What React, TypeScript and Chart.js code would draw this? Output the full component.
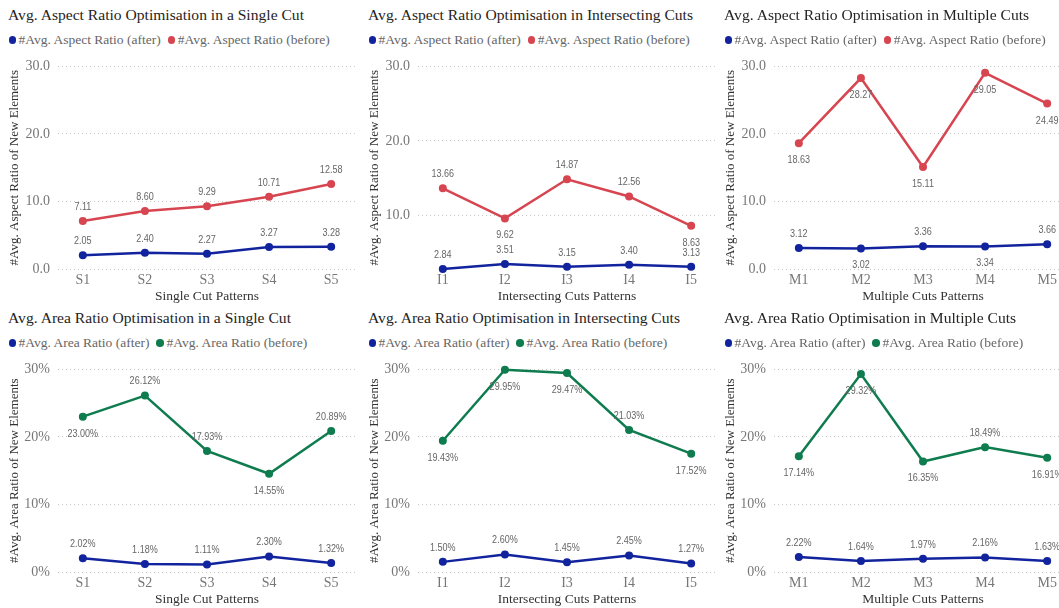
import React, { useEffect, useRef } from "react";
import { Chart, registerables } from "chart.js";

Chart.register(...registerables);

// Category labels
const singleCats = ["S1", "S2", "S3", "S4", "S5"];
const intersectCats = ["I1", "I2", "I3", "I4", "I5"];
const multipleCats = ["M1", "M2", "M3", "M4", "M5"];

// Average aspect ratio of new elements
const aspectSingleAfter = [2.05, 2.4, 2.27, 3.27, 3.28];
const aspectSingleBefore = [7.11, 8.6, 9.29, 10.71, 12.58];
const aspectIntersectAfter = [2.84, 3.51, 3.15, 3.4, 3.13];
const aspectIntersectBefore = [13.66, 9.62, 14.87, 12.56, 8.63];
const aspectMultipleAfter = [3.12, 3.02, 3.36, 3.34, 3.66];
const aspectMultipleBefore = [18.63, 28.27, 15.11, 29.05, 24.49];

// Average area ratio of new elements (percent)
const areaSingleAfter = [2.02, 1.18, 1.11, 2.3, 1.32];
const areaSingleBefore = [23.0, 26.12, 17.93, 14.55, 20.89];
const areaIntersectAfter = [1.5, 2.6, 1.45, 2.45, 1.27];
const areaIntersectBefore = [19.43, 29.95, 29.47, 21.03, 17.52];
const areaMultipleAfter = [2.22, 1.64, 1.97, 2.16, 1.63];
const areaMultipleBefore = [17.14, 29.32, 16.35, 18.49, 16.91];

// Value-axis ticks
const yTicks = [0, 10, 20, 30];
const yMax = 30;

const BLUE = "#12239E";
const RED = "#D64550";
const GREEN = "#0E7C4E";

const SERIF = "'Liberation Serif', 'Times New Roman', serif";
const LABEL_FONT = "10.5px 'Liberation Sans', Arial, sans-serif";
const LABEL_SQUEEZE = 0.86;

type Side = "a" | "b";
const allAbove: Side[] = ["a", "a", "a", "a", "a"];

interface PanelSpec {
  left: number;
  top: number;
  title: string;
  legendAfter: string;
  legendBefore: string;
  cats: string[];
  after: number[];
  before: number[];
  beforeColor: string;
  xTitle: string;
  yTitle: string;
  percent: boolean;
  fromZero: boolean;
  afterSides: Side[];
  beforeSides: Side[];
}

const aspectLegend = ["#Avg. Aspect Ratio (after)", "#Avg. Aspect Ratio (before)"];
const areaLegend = ["#Avg. Area Ratio (after)", "#Avg. Area Ratio (before)"];

const panels: PanelSpec[] = [
  {
    left: 0, top: 0,
    title: "Avg. Aspect Ratio Optimisation in a Single Cut",
    legendAfter: aspectLegend[0], legendBefore: aspectLegend[1],
    cats: singleCats, after: aspectSingleAfter, before: aspectSingleBefore,
    beforeColor: RED, xTitle: "Single Cut Patterns",
    yTitle: "#Avg. Aspect Ratio of New Elements",
    percent: false, fromZero: true,
    afterSides: allAbove, beforeSides: allAbove,
  },
  {
    left: 360, top: 0,
    title: "Avg. Aspect Ratio Optimisation in Intersecting Cuts",
    legendAfter: aspectLegend[0], legendBefore: aspectLegend[1],
    cats: intersectCats, after: aspectIntersectAfter, before: aspectIntersectBefore,
    beforeColor: RED, xTitle: "Intersecting Cuts Patterns",
    yTitle: "#Avg. Aspect Ratio of New Elements",
    percent: false, fromZero: false,
    afterSides: allAbove, beforeSides: ["a", "b", "a", "a", "b"],
  },
  {
    left: 716, top: 0,
    title: "Avg. Aspect Ratio Optimisation in Multiple Cuts",
    legendAfter: aspectLegend[0], legendBefore: aspectLegend[1],
    cats: multipleCats, after: aspectMultipleAfter, before: aspectMultipleBefore,
    beforeColor: RED, xTitle: "Multiple Cuts Patterns",
    yTitle: "#Avg. Aspect Ratio of New Elements",
    percent: false, fromZero: true,
    afterSides: ["a", "b", "a", "b", "a"], beforeSides: ["b", "b", "b", "b", "b"],
  },
  {
    left: 0, top: 303,
    title: "Avg. Area Ratio Optimisation in a Single Cut",
    legendAfter: areaLegend[0], legendBefore: areaLegend[1],
    cats: singleCats, after: areaSingleAfter, before: areaSingleBefore,
    beforeColor: GREEN, xTitle: "Single Cut Patterns",
    yTitle: "#Avg. Area Ratio of New Elements",
    percent: true, fromZero: true,
    afterSides: allAbove, beforeSides: ["b", "a", "a", "b", "a"],
  },
  {
    left: 360, top: 303,
    title: "Avg. Area Ratio Optimisation in Intersecting Cuts",
    legendAfter: areaLegend[0], legendBefore: areaLegend[1],
    cats: intersectCats, after: areaIntersectAfter, before: areaIntersectBefore,
    beforeColor: GREEN, xTitle: "Intersecting Cuts Patterns",
    yTitle: "#Avg. Area Ratio of New Elements",
    percent: true, fromZero: true,
    afterSides: allAbove, beforeSides: ["b", "b", "b", "a", "b"],
  },
  {
    left: 716, top: 303,
    title: "Avg. Area Ratio Optimisation in Multiple Cuts",
    legendAfter: areaLegend[0], legendBefore: areaLegend[1],
    cats: multipleCats, after: areaMultipleAfter, before: areaMultipleBefore,
    beforeColor: GREEN, xTitle: "Multiple Cuts Patterns",
    yTitle: "#Avg. Area Ratio of New Elements",
    percent: true, fromZero: true,
    afterSides: allAbove, beforeSides: ["b", "b", "b", "a", "b"],
  },
];

const CANVAS_W = 360;
const CANVAS_H = 253;

function makeLabelPlugin(spec: PanelSpec) {
  const fmt = (v: number) => (spec.percent ? `${v.toFixed(2)}%` : v.toFixed(2));
  const sides = [spec.afterSides, spec.beforeSides];
  return {
    id: "valueLabels",
    afterDatasetsDraw(chart: any) {
      const ctx = chart.ctx as CanvasRenderingContext2D;
      chart.data.datasets.forEach((ds: any, di: number) => {
        const meta = chart.getDatasetMeta(di);
        meta.data.forEach((pt: any, i: number) => {
          const v = ds.data[i].y as number;
          const dy = sides[di][i] === "b" ? 17 : -14;
          ctx.save();
          ctx.font = LABEL_FONT;
          ctx.fillStyle = "#666666";
          ctx.textAlign = "center";
          ctx.textBaseline = "middle";
          ctx.translate(pt.x, pt.y + dy);
          ctx.scale(LABEL_SQUEEZE, 1);
          ctx.fillText(fmt(v), 0, 0);
          ctx.restore();
        });
      });
    },
  };
}

function Panel({ spec }: { spec: PanelSpec }) {
  const ref = useRef<HTMLCanvasElement | null>(null);

  useEffect(() => {
    if (!ref.current) return;
    const yMin = spec.fromZero ? 0 : Math.min(...spec.after, ...spec.before);
    const toPoints = (vals: number[]) => vals.map((y, i) => ({ x: i, y }));
    const lineStyle = (color: string) => ({
      borderColor: color,
      backgroundColor: color,
      borderWidth: 2.5,
      pointRadius: 4,
      pointHoverRadius: 4,
      pointBorderWidth: 0,
      tension: 0,
      clip: false as const,
    });

    const chart = new Chart(ref.current, {
      type: "line",
      data: {
        datasets: [
          { label: spec.legendAfter, data: toPoints(spec.after), ...lineStyle(BLUE) },
          { label: spec.legendBefore, data: toPoints(spec.before), ...lineStyle(spec.beforeColor) },
        ],
      },
      options: {
        responsive: false,
        animation: false,
        devicePixelRatio: 1,
        layout: { padding: { top: 12, right: 3, left: 0, bottom: 0 } },
        plugins: {
          legend: { display: false },
          title: { display: false },
          tooltip: { enabled: false },
        },
        scales: {
          x: {
            type: "linear",
            min: -0.4,
            max: spec.cats.length - 1 + 0.4,
            afterBuildTicks: (scale: any) => {
              scale.ticks = spec.cats.map((_, i) => ({ value: i }));
            },
            afterFit: (scale: any) => {
              scale.height = 34;
            },
            grid: { display: false, drawTicks: false },
            border: { display: false },
            ticks: {
              padding: 3,
              color: "#777777",
              font: { family: SERIF, size: 14 },
              callback: (v: any) => spec.cats[Number(v)] ?? "",
              maxRotation: 0,
              autoSkip: false,
            },
            title: {
              display: true,
              text: spec.xTitle,
              color: "#333333",
              font: { family: SERIF, size: 13.5, lineHeight: 1 },
              padding: { top: 0, bottom: 0 },
            },
          },
          y: {
            type: "linear",
            min: yMin,
            max: yMax,
            afterBuildTicks: (scale: any) => {
              scale.ticks = yTicks.filter((t) => t >= yMin).map((t) => ({ value: t }));
            },
            afterFit: (scale: any) => {
              scale.width = 58;
            },
            grid: { color: "#c8c8c8", drawTicks: false, lineWidth: 1 },
            border: { display: false, dash: [1, 3] },
            ticks: {
              padding: 8,
              color: "#777777",
              font: { family: SERIF, size: 14 },
              callback: (v: any) => (spec.percent ? `${v}%` : Number(v).toFixed(1)),
            },
            title: {
              display: true,
              text: spec.yTitle,
              color: "#333333",
              font: { family: SERIF, size: 13, lineHeight: 1 },
              padding: { top: 8, bottom: 0 },
            },
          },
        },
      },
      plugins: [makeLabelPlugin(spec)],
    } as any);

    return () => chart.destroy();
  }, [spec]);

  const dot = (color: string, ml: number) => (
    <span
      style={{
        display: "inline-block",
        width: 7.5,
        height: 7.5,
        borderRadius: "50%",
        background: color,
        marginLeft: ml,
        marginRight: 2.5,
        flex: "none",
      }}
    />
  );

  return (
    <div style={{ position: "absolute", left: spec.left, top: spec.top, width: CANVAS_W, height: 303 }}>
      <div
        style={{
          position: "absolute",
          left: 8,
          top: 6.5,
          font: `15.6px ${SERIF}`,
          lineHeight: "15.6px",
          color: "#252423",
          whiteSpace: "nowrap",
        }}
      >
        {spec.title}
      </div>
      <div
        style={{
          position: "absolute",
          left: 7,
          top: 33,
          display: "flex",
          alignItems: "center",
          font: `13.5px ${SERIF}`,
          lineHeight: "13.5px",
          color: "#666666",
          whiteSpace: "nowrap",
        }}
      >
        {dot(BLUE, 1.5)}
        <span>{spec.legendAfter}</span>
        {dot(spec.beforeColor, 7)}
        <span>{spec.legendBefore}</span>
      </div>
      <canvas
        ref={ref}
        width={CANVAS_W}
        height={CANVAS_H}
        style={{ position: "absolute", left: 0, top: 50, width: CANVAS_W, height: CANVAS_H }}
      />
    </div>
  );
}

export default function App() {
  return (
    <div
      style={{
        position: "fixed",
        left: 0,
        top: 0,
        width: 1059,
        height: 608,
        overflow: "hidden",
        background: "#ffffff",
      }}
    >
      {panels.map((p) => (
        <Panel key={p.title} spec={p} />
      ))}
    </div>
  );
}
